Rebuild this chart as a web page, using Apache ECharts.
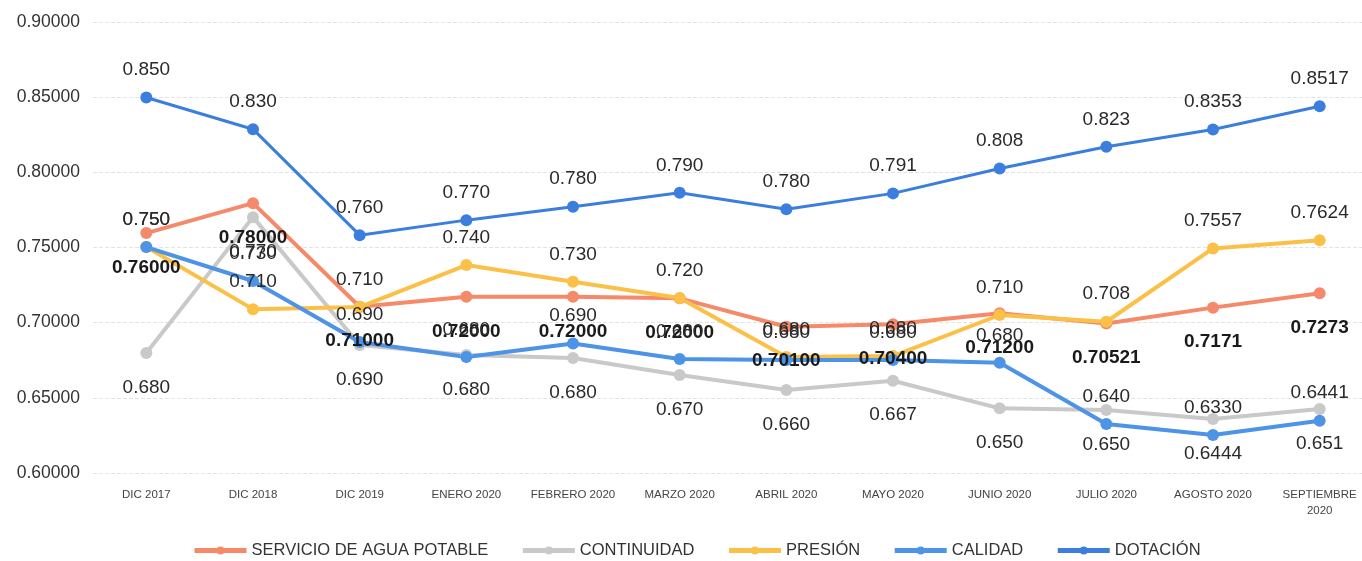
<!DOCTYPE html>
<html>
<head>
<meta charset="utf-8">
<script src="https://cdn.jsdelivr.net/npm/echarts@6/dist/echarts.min.js"></script>
<style>
html,body{margin:0;padding:0;background:#fff;}
#chart{width:1362px;height:561px;}
</style>
</head>
<body>
<div id="chart"></div>
<script>
const categories = ['DIC 2017','DIC 2018','DIC 2019','ENERO 2020','FEBRERO 2020','MARZO 2020','ABRIL 2020','MAYO 2020','JUNIO 2020','JULIO 2020','AGOSTO 2020','SEPTIEMBRE 2020'];

const seriesNames = ['SERVICIO DE AGUA POTABLE','CONTINUIDAD','PRESIÓN','CALIDAD','DOTACIÓN'];

// plotted values (as drawn)
const servicio   = [0.7596,0.7795,0.7106,0.7172,0.7172,0.7162,0.6973,0.6990,0.7062,0.6995,0.7100,0.7195];
const continuidad= [0.6798,0.7702,0.6851,0.6785,0.6765,0.6652,0.6552,0.6614,0.6430,0.6419,0.6359,0.6426];
const presion    = [0.7503,0.7090,0.7104,0.7383,0.7272,0.7164,0.6771,0.6778,0.7051,0.7006,0.7494,0.7549];
const calidad    = [0.7503,0.7277,0.6871,0.6771,0.6862,0.6758,0.6751,0.6751,0.6733,0.6326,0.6253,0.6348];
const dotacion   = [0.8498,0.8287,0.7582,0.7682,0.7771,0.7864,0.7755,0.7860,0.8026,0.8170,0.8285,0.8440];

// data label texts as printed on the chart
const servicioLabels    = ['0.76000','0.78000','0.71000','0.72000','0.72000','0.72000','0.70100','0.70400','0.71200','0.70521','0.7171','0.7273'];
const continuidadLabels = ['0.680','0.770','0.690','0.680','0.680','0.670','0.660','0.667','0.650','0.650','0.6444','0.651'];
const presionLabels     = ['0.750','0.710','0.710','0.740','0.730','0.720','0.680','0.680','0.710','0.708','0.7557','0.7624'];
const calidadLabels     = ['0.750','0.730','0.690','0.680','0.690','0.680','0.680','0.680','0.680','0.640','0.6330','0.6441'];
const dotacionLabels    = ['0.850','0.830','0.760','0.770','0.780','0.790','0.780','0.791','0.808','0.823','0.8353','0.8517'];

const yTicks = {min:0.60, max:0.90, interval:0.05};

const colors = ['#F5896A','#C9C9C9','#FBC047','#4D93E6','#3B7EDD'];

function mkSeries(name, data, labels, color, width, pos, bold){
  return {
    name: name,
    type: 'line',
    data: data,
    symbol: 'circle',
    symbolSize: 12,
    color: color,
    lineStyle: {width: width, color: color},
    itemStyle: {color: color},
    label: {
      show: true,
      position: pos,
      distance: pos === 'top' ? 12 : 19,
      fontFamily: 'Liberation Sans, Arial, sans-serif',
      fontSize: 19,
      fontWeight: bold ? 'bold' : 'normal',
      color: bold ? '#1a1a1a' : '#2a2a2a',
      formatter: function(p){ return labels[p.dataIndex]; }
    }
  };
}

const chart = echarts.init(document.getElementById('chart'));
chart.setOption({
  animation: false,
  backgroundColor: '#ffffff',
  grid: {left: 93, right: -11, top: 22, bottom: 88, outerBoundsMode: 'none', containLabel: false},
  legend: {
    data: seriesNames,
    left: 187,
    top: 537,
    itemWidth: 52,
    itemHeight: 10,
    itemGap: 32,
    lineStyle: {width: 5},
    textStyle: {fontFamily: 'Liberation Sans, Arial, sans-serif', fontSize: 16.5, color: '#333'}
  },
  xAxis: {
    type: 'category',
    data: categories,
    boundaryGap: true,
    axisLine: {show: false},
    axisTick: {show: false},
    axisLabel: {
      interval: 0,
      margin: 14,
      fontFamily: 'Liberation Sans, Arial, sans-serif',
      fontSize: 11.5,
      color: '#444',
      lineHeight: 16,
      formatter: function(v){ return v.length > 14 ? v.replace(' ', '\n') : v; }
    }
  },
  yAxis: {
    type: 'value',
    min: yTicks.min,
    max: yTicks.max,
    interval: yTicks.interval,
    axisLine: {show: false},
    axisTick: {show: false},
    axisLabel: {
      margin: 13,
      fontFamily: 'Liberation Sans, Arial, sans-serif',
      fontSize: 17.5,
      color: '#333',
      formatter: function(v){ return v.toFixed(5); }
    },
    splitLine: {lineStyle: {color: '#e3e3e3', type: 'dashed', width: 1}}
  },
  series: [
    mkSeries(seriesNames[0], servicio, servicioLabels, colors[0], 4, 'bottom', true),
    mkSeries(seriesNames[1], continuidad, continuidadLabels, colors[1], 4, 'bottom', false),
    mkSeries(seriesNames[2], presion, presionLabels, colors[2], 4, 'top', false),
    mkSeries(seriesNames[3], calidad, calidadLabels, colors[3], 4, 'top', false),
    mkSeries(seriesNames[4], dotacion, dotacionLabels, colors[4], 3, 'top', false)
  ]
});
</script>
</body>
</html>
